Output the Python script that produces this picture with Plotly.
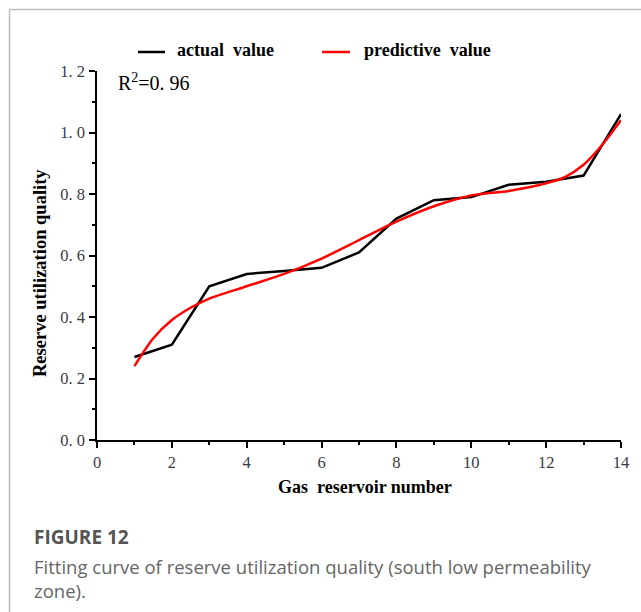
import plotly.graph_objects as go

# Data
reservoir = [1, 2, 3, 4, 5, 6, 7, 8, 9, 10, 11, 12, 13, 14]
actual = [0.27, 0.31, 0.50, 0.54, 0.55, 0.56, 0.61, 0.72, 0.78, 0.79, 0.83, 0.84, 0.86, 1.06]

pred_x = [1, 1.5, 2, 2.5, 3, 4, 5, 6, 7, 8, 9, 10, 11, 12, 12.5, 13, 13.5, 14]
pred_y = [0.24, 0.33, 0.39, 0.43, 0.46, 0.50, 0.54, 0.59, 0.65, 0.71, 0.76, 0.795, 0.81, 0.835, 0.855, 0.895, 0.96, 1.04]

y_ticks = [0.0, 0.2, 0.4, 0.6, 0.8, 1.0, 1.2]
y_tick_text = ["0. 0", "0. 2", "0. 4", "0. 6", "0. 8", "1. 0", "1. 2"]
x_ticks = [0, 2, 4, 6, 8, 10, 12, 14]

serif = "Liberation Serif"

fig = go.Figure()
fig.add_trace(go.Scatter(x=reservoir, y=actual, mode="lines",
                         line=dict(color="black", width=2.5),
                         name="actual  value", showlegend=False))
fig.add_trace(go.Scatter(x=pred_x, y=pred_y, mode="lines",
                         line=dict(color="#ff0000", width=2.5, shape="spline", smoothing=0.8),
                         name="predictive  value", showlegend=False))

W, H = 641, 612
L, R, T, B = 97, 20, 71, 172
pw, ph = W - L - R, H - T - B

def px(xp):
    return (xp - L) / pw

def py(yp):
    return (H - B - yp) / ph

fig.update_layout(
    width=W, height=H,
    margin=dict(l=L, r=R, t=T, b=B),
    paper_bgcolor="white", plot_bgcolor="white",
    xaxis=dict(range=[0, 14], tickvals=x_ticks, ticks="outside", ticklen=6, tickwidth=1.5,
               tickcolor="black", showline=True, linecolor="black", linewidth=1.5,
               showgrid=False, zeroline=False,
               minor=dict(dtick=1, ticks="outside", ticklen=3, tickwidth=1.5, tickcolor="black"),
               tickfont=dict(family=serif, size=16.5, color="#3a3a44")),
    yaxis=dict(range=[0, 1.2], tickvals=y_ticks, ticktext=y_tick_text, ticks="outside",
               ticklen=6, tickwidth=1.5, tickcolor="black", showline=True, linecolor="black",
               linewidth=1.5, showgrid=False, zeroline=False,
               minor=dict(dtick=0.1, ticks="outside", ticklen=3, tickwidth=1.5, tickcolor="black"),
               tickfont=dict(family=serif, size=16.5, color="#3a3a44"), ticklabelstandoff=1),
)

# axis titles
fig.add_annotation(text="<b>Gas  reservoir number</b>", xref="paper", yref="paper",
                   x=px(365), y=py(487), xanchor="center", yanchor="middle", showarrow=False,
                   font=dict(family=serif, size=18, color="black"))
fig.add_annotation(text="<b>Reserve utilization quality</b>", xref="paper", yref="paper",
                   x=px(40), y=py(273), xanchor="center", yanchor="middle", showarrow=False,
                   textangle=-90, font=dict(family=serif, size=18.5, color="black"))

# legend (manual)
legend_items = [("actual  value", "black", 138, 165, 175), ("predictive  value", "#ff0000", 322, 350, 362)]
for label, col, lx0, lx1, tx in legend_items:
    fig.add_shape(type="line", xref="paper", yref="paper", x0=px(lx0), x1=px(lx1),
                  y0=py(52), y1=py(52), line=dict(color=col, width=2.5))
    fig.add_annotation(text="<b>" + label + "</b>", xref="paper", yref="paper",
                       x=px(tx), y=py(50.5), xanchor="left", yanchor="middle", showarrow=False,
                       font=dict(family=serif, size=18, color="black"))

fig.add_annotation(text="R<sup>2</sup>=0. 96", xref="paper", yref="paper",
                   x=px(116), y=py(82), xanchor="left", yanchor="middle", showarrow=False,
                   font=dict(family=serif, size=20, color="black"))

fig.add_annotation(text="<b>FIGURE 12</b>", xref="paper", yref="paper",
                   x=px(32), y=py(537), xanchor="left", yanchor="middle", showarrow=False,
                   font=dict(family="Open Sans", size=19, color="#555"))
fig.add_annotation(text="Fitting curve of reserve utilization quality (south low permeability<br>zone).",
                   xref="paper", yref="paper", x=px(32), y=py(552), xanchor="left", yanchor="top",
                   align="left", showarrow=False,
                   font=dict(family="Open Sans", size=18.5, color="#666"))

# frame border
fig.add_shape(type="line", xref="paper", yref="paper", x0=px(9.5), x1=px(700), y0=py(9.5), y1=py(9.5),
              line=dict(color="#bbb", width=1.5))
fig.add_shape(type="line", xref="paper", yref="paper", x0=px(9.5), x1=px(9.5), y0=py(9.5), y1=py(700),
              line=dict(color="#bbb", width=1.5))

fig.write_html("out.html")
